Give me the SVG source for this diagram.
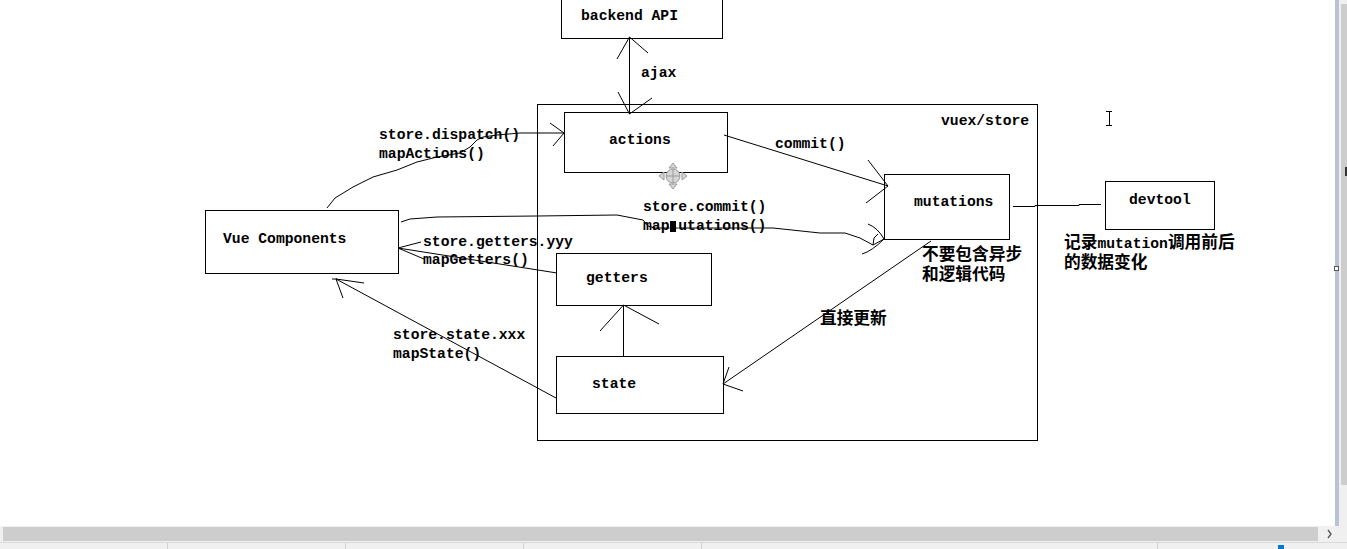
<svg xmlns="http://www.w3.org/2000/svg" width="1347" height="549" viewBox="0 0 1347 549">
<style>
.box{fill:none;stroke:#000;stroke-width:1}
.ln{fill:none;stroke:#000;stroke-width:1}
.t{font-family:"Liberation Mono","DejaVu Sans Mono",monospace;font-weight:bold;font-size:14.7px;fill:#000}
.c{font-family:"Noto Sans CJK SC","Noto Sans CJK TC",sans-serif;font-weight:bold;font-size:16.7px;fill:#000}
.ui{stroke:none}
</style>
<rect x="0" y="0" width="1347" height="549" fill="#ffffff"/>

<g id="connectors">
  <!-- backend <-> actions (ajax) -->
  <path class="ln" d="M629.5,37 L629.5,114"/>
  <path class="ln" d="M617,59 L629.5,37 L648,53"/>
  <path class="ln" d="M618,92 L629.5,114 L652,98"/>
  <!-- Vue -> actions (dispatch) -->
  <path class="ln" d="M327,208 L335,198 L353,187 L373,177 L397,170 L417,162 L437,157 L460,153 L470,147 L477,140 L483,137 L497,135 L520,133 L564,133"/>
  <path class="ln" d="M550,123 L564,133 L553,146"/>
  <!-- actions -> mutations (commit) -->
  <path class="ln" d="M724,135 L888,186"/>
  <path class="ln" d="M868,160 L888,186 L866,203"/>
  <!-- Vue -> mutations (store.commit / mapMutations) -->
  <path class="ln" d="M401,222 L410,219 L437,217 L537,216 L617,215 L643,220 L648,226 L655,228 L773,228 L820,233 L845,233 L860,238 L873,245 L884,239"/>
  <path class="ln" d="M868,224 Q878,228 884,239"/>
  <path class="ln" d="M862,254 Q872,251 884,239"/>
  <path class="ln" d="M873,245 L874,238 L878,234"/>
  <!-- getters -> Vue -->
  <path class="ln" d="M398,248 L557,273"/>
  <path class="ln" d="M421,242 L398,248 L424,259"/>
  <!-- state -> Vue -->
  <path class="ln" d="M556,398 L336,279"/>
  <path class="ln" d="M364,283 L336,279 L343,298"/>
  <path class="ln" d="M332,279 L337,279"/>
  <!-- state -> getters -->
  <path class="ln" d="M623.5,356 L623.5,305"/>
  <path class="ln" d="M600,331 L623.5,305 L659,324"/>
  <!-- mutations -> state -->
  <path class="ln" d="M931,241 L723,384"/>
  <path class="ln" d="M729,367 L723,384 L743,391"/>
  <!-- mutations - devtool -->
  <path class="ln" d="M1013,206.5 L1035,206.5 L1035,205.5 L1079,205.5 L1079,204.5 L1101,204.5"/>
</g>

<g id="backend-api">
  <rect class="box" x="561.5" y="-5" width="161" height="43.5"/>
  <text class="t" x="581" y="20">backend API</text>
</g>
<g id="ajax-label"><text class="t" x="641" y="77">ajax</text></g>

<g id="vuex-store">
  <rect class="box" x="537.5" y="104.5" width="500" height="336"/>
  <text class="t" x="941" y="125">vuex/store</text>
</g>

<g id="actions">
  <rect class="box" x="564.5" y="112.5" width="163" height="60"/>
  <text class="t" x="609" y="144">actions</text>
</g>

<g id="mutations">
  <rect class="box" x="884.5" y="174.5" width="125" height="65"/>
  <text class="t" x="914" y="206">mutations</text>
</g>

<g id="devtool">
  <rect class="box" x="1105.5" y="181.5" width="109" height="48"/>
  <text class="t" x="1129" y="204">devtool</text>
</g>

<g id="vue-components">
  <rect class="box" x="205.5" y="210.5" width="193" height="63"/>
  <text class="t" x="223" y="243">Vue Components</text>
</g>

<g id="getters">
  <rect class="box" x="556.5" y="253.5" width="155" height="52"/>
  <text class="t" x="586" y="282">getters</text>
</g>

<g id="state">
  <rect class="box" x="556.5" y="356.5" width="167" height="57"/>
  <text class="t" x="592" y="388">state</text>
</g>

<g id="labels">
  <text class="t" x="379" y="139">store.dispatch()</text>
  <text class="t" x="379" y="158">mapActions()</text>
  <text class="t" x="775" y="148">commit()</text>
  <text class="t" x="643" y="211">store.commit()</text>
  <text class="t" x="643" y="230">mapMutations()</text>
  <rect x="669" y="219" width="10" height="8.5" fill="#fff"/>
  <rect x="669" y="228.6" width="10" height="3" fill="#fff"/>
  <rect x="670" y="221" width="6" height="11" fill="#000"/>
  <text class="t" x="423" y="246">store.getters.yyy</text>
  <text class="t" x="423" y="264">mapGetters()</text>
  <text class="t" x="393" y="339">store.state.xxx</text>
  <text class="t" x="393" y="358">mapState()</text>
  <text class="c" x="922" y="260">不要包含异步</text>
  <text class="c" x="922" y="280">和逻辑代码</text>
  <text class="c" x="820" y="324">直接更新</text>
  <text x="1064" y="248"><tspan class="c">记录</tspan><tspan class="t">mutation</tspan><tspan class="c">调用前后</tspan></text>
  <text class="c" x="1064" y="268">的数据变化</text>
</g>

<g id="cursors">
  <g fill="#d6d6d6" stroke="#9a9a9a" stroke-width="1">
    <polygon points="673,163 677,168 669,168"/>
    <polygon points="673,189 677,184 669,184"/>
    <polygon points="659,176 664,172 664,180"/>
    <polygon points="687,176 682,172 682,180"/>
    <circle cx="673" cy="176" r="7"/>
  </g>
  <path d="M673,169 L673,183 M666,176 L680,176" stroke="#9a9a9a" stroke-width="1" fill="none"/>
  <path d="M1106,111.5 L1112,111.5 M1109.5,111 L1109.5,126 M1106,125.5 L1112,125.5" stroke="#000" stroke-width="1" fill="none"/>
</g>

<g id="window-chrome">
  <rect class="ui" x="1335" y="0" width="4" height="526" fill="#b8c4d6"/>
  <rect class="ui" x="1339" y="0" width="8" height="526" fill="#f0f0f0"/>
  <rect class="ui" x="1341" y="4" width="6" height="481" fill="#cdcdcd"/>
  <rect x="1334.5" y="266.5" width="4" height="4" fill="#fff" stroke="#555"/>
  <rect class="ui" x="1345" y="167" width="2" height="9" fill="#333"/>
  <rect class="ui" x="0" y="526" width="1347" height="16" fill="#f0f0f0"/>
  <rect class="ui" x="3" y="527" width="1315" height="14" fill="#cdcdcd"/>
  <path d="M1328,530 L1331,534 L1328,538" stroke="#555" stroke-width="1.3" fill="none"/>
  <rect class="ui" x="0" y="542" width="1347" height="1" fill="#d9d9d9"/>
  <rect class="ui" x="0" y="543" width="1347" height="6" fill="#f0f0f0"/>
  <g fill="#d2d2d2">
    <rect x="167" y="543" width="1" height="6"/>
    <rect x="345" y="543" width="1" height="6"/>
    <rect x="523" y="543" width="1" height="6"/>
    <rect x="701" y="543" width="1" height="6"/>
    <rect x="1157" y="543" width="1" height="6"/>
  </g>
  <rect class="ui" x="1278" y="545" width="6" height="4" fill="#0078d7"/>
</g>
</svg>
